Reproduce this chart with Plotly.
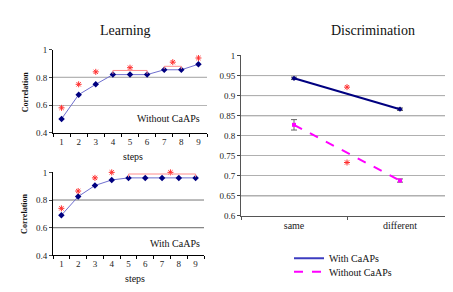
import plotly.graph_objects as go

# ---------------- data ----------------
steps = [1, 2, 3, 4, 5, 6, 7, 8, 9]
learn_without = [0.50, 0.675, 0.75, 0.82, 0.82, 0.82, 0.855, 0.855, 0.895]
learn_with = [0.69, 0.825, 0.905, 0.945, 0.96, 0.96, 0.96, 0.96, 0.96]

sig_without_x = [1, 2, 3, 5, 7.5, 9]
sig_without_y = [0.58, 0.75, 0.84, 0.87, 0.91, 0.94]
brackets_without = [(4, 6, 0.825, 0.85), (7, 8, 0.86, 0.88)]

sig_with_x = [1, 2, 3, 4, 7.5]
sig_with_y = [0.74, 0.865, 0.96, 1.0, 1.0]
brackets_with = [(5, 9, 0.965, 0.988)]

disc_categories = ["same", "different"]
disc_with = [0.943, 0.866]
disc_with_err = [0.003, 0.003]
disc_without = [0.827, 0.688]
disc_without_err = [0.013, 0.004]
disc_sig_x = [0.5, 0.5]
disc_sig_y = [0.921, 0.733]

left_ticks = [0.4, 0.6, 0.8, 1.0]
left_ticktext = ["0.4", "0.6", "0.8", "1"]
right_ticks = [0.6, 0.65, 0.7, 0.75, 0.8, 0.85, 0.9, 0.95, 1.0]
right_ticktext = ["0.6", "0.65", "0.7", "0.75", "0.8", "0.85", "0.9", "0.95", "1"]

SERIF = "Liberation Serif, Times New Roman, Times, serif"
NAVY = "#000080"
LINE_BLUE = "#6f6fcf"
RED = "#ff3030"
BRACKET = "#ff8c8c"
MAGENTA = "#ff00ff"

star = dict(symbol="asterisk-open", size=5, color=RED, line=dict(color=RED, width=1))

fig = go.Figure()

# ---- Learning: without CaAPs (top) ----
fig.add_trace(go.Scatter(x=steps, y=learn_without, mode="lines+markers",
                         line=dict(color=LINE_BLUE, width=1),
                         marker=dict(symbol="diamond", size=5, color=NAVY),
                         xaxis="x", yaxis="y", showlegend=False, cliponaxis=False))
fig.add_trace(go.Scatter(x=sig_without_x, y=sig_without_y, mode="markers", marker=star,
                         xaxis="x", yaxis="y", showlegend=False, cliponaxis=False))
for x0, x1, ylo, yhi in brackets_without:
    fig.add_trace(go.Scatter(x=[x0, x0, x1, x1], y=[ylo, yhi, yhi, ylo], mode="lines",
                             line=dict(color=BRACKET, width=1), xaxis="x", yaxis="y",
                             showlegend=False, cliponaxis=False))

# ---- Learning: with CaAPs (bottom) ----
fig.add_trace(go.Scatter(x=steps, y=learn_with, mode="lines+markers",
                         line=dict(color=LINE_BLUE, width=1),
                         marker=dict(symbol="diamond", size=5, color=NAVY),
                         xaxis="x2", yaxis="y2", showlegend=False, cliponaxis=False))
fig.add_trace(go.Scatter(x=sig_with_x, y=sig_with_y, mode="markers", marker=star,
                         xaxis="x2", yaxis="y2", showlegend=False, cliponaxis=False))
for x0, x1, ylo, yhi in brackets_with:
    fig.add_trace(go.Scatter(x=[x0, x0, x1, x1], y=[ylo, yhi, yhi, ylo], mode="lines",
                             line=dict(color=BRACKET, width=1), xaxis="x2", yaxis="y2",
                             showlegend=False, cliponaxis=False))

# ---- Discrimination ----
disc_x = list(range(len(disc_categories)))
fig.add_trace(go.Scatter(x=disc_x, y=disc_with, mode="lines+markers", name="With CaAPs",
                         line=dict(color=NAVY, width=2),
                         marker=dict(symbol="diamond", size=4, color=NAVY),
                         error_y=dict(type="data", array=disc_with_err, color="#555555", width=3, thickness=1),
                         xaxis="x3", yaxis="y3", showlegend=False, cliponaxis=False))
fig.add_trace(go.Scatter(x=disc_x, y=disc_without, mode="lines+markers", name="Without CaAPs",
                         line=dict(color=MAGENTA, width=2, dash="dash"),
                         marker=dict(symbol="square", size=4, color=MAGENTA),
                         error_y=dict(type="data", array=disc_without_err, color="#666666", width=3, thickness=1),
                         xaxis="x3", yaxis="y3", showlegend=False, cliponaxis=False))
fig.add_trace(go.Scatter(x=disc_sig_x, y=disc_sig_y, mode="markers", marker=star,
                         xaxis="x3", yaxis="y3", showlegend=False, cliponaxis=False))
# legend entries (lines only)
fig.add_trace(go.Scatter(x=[None], y=[None], mode="lines", name="With CaAPs", legend="legend",
                         line=dict(color="#3c3cc0", width=2), xaxis="x3", yaxis="y3"))
fig.add_trace(go.Scatter(x=[None], y=[None], mode="lines", name="Without CaAPs", legend="legend2",
                         line=dict(color=MAGENTA, width=2, dash="dash"), xaxis="x3", yaxis="y3"))

W, H = 453, 292
def px_x(a, b):
    return [a / W, b / W]
def px_y(top, bottom):
    return [(H - bottom) / H, (H - top) / H]

tickfont = dict(family=SERIF, size=9, color="#222222")
half_steps = [s - 0.5 for s in steps] + [steps[-1] + 0.5]

common_x = dict(range=[0.5, 9.5], tickvals=steps, ticktext=[str(s) for s in steps], ticks="",
                showline=True, linecolor="#000000", linewidth=1, showgrid=False, zeroline=False,
                tickfont=tickfont, fixedrange=True,
                minor=dict(tickvals=half_steps, ticks="outside", ticklen=3, tickcolor="#000000", showgrid=False))
common_y = dict(range=[0.4, 1.0], tickvals=left_ticks, ticktext=left_ticktext, ticks="outside", ticklen=3,
                showline=True, linecolor="#000000", linewidth=1, gridcolor="#b5b5b5",
                zeroline=False, tickfont=tickfont)

legend_common = dict(xanchor="left", yanchor="middle", font=dict(family=SERIF, size=10, color="#111111"),
                     bgcolor="rgba(0,0,0,0)", tracegroupgap=0, itemwidth=30)

fig.update_layout(
    width=W, height=H, margin=dict(l=0, r=0, t=0, b=0),
    paper_bgcolor="white", plot_bgcolor="white",
    font=dict(family=SERIF, color="#111111"),
    xaxis=dict(domain=px_x(45, 199), anchor="y", **common_x),
    yaxis=dict(domain=px_y(38, 124), anchor="x", showgrid=True, **common_y),
    xaxis2=dict(domain=px_x(45, 196), anchor="y2", **common_x),
    yaxis2=dict(domain=px_y(165, 251), anchor="x2", showgrid=False, **common_y),
    xaxis3=dict(domain=px_x(233, 445), anchor="y3", range=[-0.5, 1.5], tickvals=disc_x,
                ticktext=disc_categories, ticks="", showline=True, linecolor="#555555", showgrid=False,
                zeroline=False, tickfont=dict(family=SERIF, size=10, color="#222222"),
                minor=dict(tickvals=[-0.5, 0.5, 1.5], ticks="outside", ticklen=3, tickcolor="#555555", showgrid=False)),
    yaxis3=dict(domain=px_y(44, 210), anchor="x3", range=[0.6, 1.0], tickvals=right_ticks,
                ticktext=right_ticktext, ticks="outside", ticklen=3, showline=True, linecolor="#555555",
                showgrid=True, gridcolor="#b0b0b0", zeroline=False, tickfont=tickfont),
    legend=dict(x=281 / W, y=(H - 254) / H, **legend_common),
    legend2=dict(x=281 / W, y=(H - 268) / H, **legend_common),
    showlegend=True,
)

# darker gridlines (style only)
for yv, col in [(0.8, "#555555")]:
    fig.add_shape(type="line", xref="x domain", yref="y", x0=0, x1=1, y0=yv, y1=yv,
                  line=dict(color=col, width=1), layer="below")
for yv, col in [(0.8, "#777777"), (0.6, "#666666")]:
    fig.add_shape(type="line", xref="x2 domain", yref="y2", x0=0, x1=1, y0=yv, y1=yv,
                  line=dict(color=col, width=1), layer="below")
for yv, col in [(0.95, "#000000"), (0.9, "#555555"), (0.85, "#000000"), (0.65, "#666666")]:
    fig.add_shape(type="line", xref="x3 domain", yref="y3", x0=0, x1=1, y0=yv, y1=yv,
                  line=dict(color=col, width=1), layer="below")

ann = [
    dict(text="Learning", x=117 / W, y=(H - 18) / H, font=dict(size=14)),
    dict(text="Discrimination", x=365 / W, y=(H - 18) / H, font=dict(size=14)),
    dict(text="steps", x=125 / W, y=(H - 149) / H, font=dict(size=10)),
    dict(text="steps", x=127 / W, y=(H - 275) / H, font=dict(size=10)),
    dict(text="<b>Correlation</b>", x=17 / W, y=(H - 82) / H, font=dict(size=8), textangle=-90),
    dict(text="<b>Correlation</b>", x=17 / W, y=(H - 208) / H, font=dict(size=8), textangle=-90),
    dict(text="Without CaAPs", x=160 / W, y=(H - 109) / H, font=dict(size=10)),
    dict(text="With CaAPs", x=167 / W, y=(H - 239) / H, font=dict(size=10)),
]
for a in ann:
    a.update(xref="paper", yref="paper", showarrow=False, xanchor="center", yanchor="middle")
    a["font"] = dict(family=SERIF, color="#111111", **a["font"])
    fig.add_annotation(**a)

fig.write_html("out.html")
